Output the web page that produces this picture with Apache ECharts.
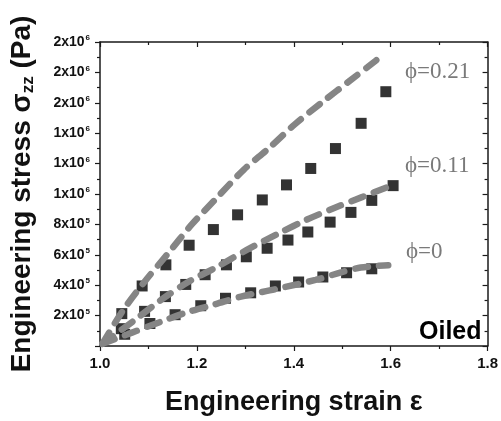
<!DOCTYPE html>
<html>
<head>
<meta charset="utf-8">
<script src="https://cdn.jsdelivr.net/npm/echarts@6/dist/echarts.min.js"></script>
<style>html,body{margin:0;padding:0;background:#fff}#c{width:501px;height:421px}</style>
</head>
<body>
<div id="c"></div>
<script>
// ---- data ----
const strain21 = [1.045,1.087,1.136,1.184,1.234,1.284,1.335,1.385,1.435,1.486,1.539,1.590];
const stress21 = [2.13e5,3.95e5,5.34e5,6.63e5,7.66e5,8.63e5,9.61e5,1.06e6,1.168e6,1.299e6,1.465e6,1.673e6];
const strain11 = [1.044,1.092,1.135,1.177,1.217,1.261,1.302,1.345,1.388,1.429,1.475,1.518,1.561,1.605];
const stress11 = [1.14e5,2.28e5,3.25e5,4.05e5,4.69e5,5.34e5,5.87e5,6.43e5,6.97e5,7.50e5,8.15e5,8.79e5,9.58e5,1.055e6];
const strain0 = [1.051,1.103,1.155,1.208,1.259,1.311,1.362,1.410,1.460,1.509,1.561];
const stress0 = [0.77e5,1.48e5,2.06e5,2.65e5,3.14e5,3.50e5,3.95e5,4.21e5,4.54e5,4.82e5,5.08e5];

const fitX21 = [1.005,1.047,1.092,1.141,1.189,1.243,1.297,1.347,1.402,1.459,1.516,1.569,1.583];
const fitY21 = [1.5e4,2.32e5,4.23e5,6.11e5,7.98e5,9.81e5,1.161e6,1.297e6,1.458e6,1.605e6,1.746e6,1.877e6,1.915e6];
const fitX11 = [1.005,1.071,1.126,1.182,1.240,1.303,1.371,1.426,1.486,1.542,1.597];
const fitY11 = [1.5e4,1.69e5,3.03e5,4.21e5,5.18e5,6.32e5,7.44e5,8.30e5,9.11e5,9.81e5,1.05e6];
const fitX0 = [1.005,1.066,1.124,1.181,1.239,1.291,1.361,1.445,1.499,1.538,1.595];
const fitY0 = [1.5e4,0.88e5,1.58e5,2.23e5,2.76e5,3.25e5,3.73e5,4.35e5,4.86e5,5.16e5,5.32e5];

const xTicks = [1.0,1.2,1.4,1.6,1.8];
const curveLabels = ['\u03d5=0.21','\u03d5=0.11','\u03d5=0'];
const panelLabel = 'Oiled';

const zip = (a,b) => a.map((v,i)=>[v,b[i]]);

const chart = echarts.init(document.getElementById('c'), null, {renderer:'canvas'});
const axisLine = {show:true, onZero:false, lineStyle:{color:'#1a1a1a', width:1.5}};
const tickStyle = {color:'#1a1a1a', width:1.2};

function yLabel(v){
  if (v === 0) return '';
  if (v < 1e6) return '{a|' + Math.round(v/1e5) + 'x10}{s|5}';
  return '{a|' + Math.round(v/1e6) + 'x10}{s|6}';
}

const dashLine = {color:'#858585', width:6.5, type:[13,11], cap:'round'};
const sq = {color:'#000'};

chart.setOption({
  animation:false,
  grid:{left:100, top:42, right:11, bottom:69, containLabel:false},
  xAxis:[{
    type:'value', min:1.0, max:1.8, interval:0.2, position:'bottom',
    axisLine:axisLine,
    axisTick:{show:true, inside:false, length:5, lineStyle:tickStyle},
    minorTick:{show:true, splitNumber:2, length:3, lineStyle:tickStyle},
    splitLine:{show:false},
    axisLabel:{margin:10, fontFamily:'Liberation Sans', fontWeight:'bold', fontSize:15, color:'#111',
      formatter:v=>xTicks.some(t=>Math.abs(t-v)<1e-9)?v.toFixed(1):''},
    name:'Engineering strain \u03b5', nameLocation:'middle', nameGap:43,
    nameTextStyle:{fontFamily:'Liberation Sans', fontWeight:'bold', fontSize:27, color:'#111'}
  },{
    type:'value', min:1.0, max:1.8, interval:0.2, position:'top',
    axisLine:axisLine,
    axisTick:{show:true, inside:true, length:5, lineStyle:tickStyle},
    minorTick:{show:true, splitNumber:2, length:3, lineStyle:tickStyle},
    splitLine:{show:false}, axisLabel:{show:false}
  }],
  yAxis:[{
    type:'value', min:0, max:2e6, interval:2e5, position:'left',
    axisLine:axisLine,
    axisTick:{show:true, inside:false, length:5, lineStyle:tickStyle},
    minorTick:{show:true, splitNumber:2, length:3, lineStyle:tickStyle},
    splitLine:{show:false},
    axisLabel:{margin:10, formatter:yLabel,
      rich:{
        a:{fontFamily:'Liberation Sans', fontWeight:'bold', fontSize:14, color:'#111', lineHeight:16},
        s:{fontFamily:'Liberation Sans', fontWeight:'bold', fontSize:8, color:'#111', lineHeight:16, verticalAlign:'top', padding:[0,0,7,1]}
      }},
    name:'Engineering stress \u03c3{sub|zz} (Pa)', nameLocation:'middle', nameGap:63, nameRotate:90,
    nameTextStyle:{fontFamily:'Liberation Sans', fontWeight:'bold', fontSize:28, color:'#111',
      rich:{sub:{fontFamily:'Liberation Sans', fontWeight:'bold', fontSize:17, color:'#111', padding:[12,0,0,0]}}}
  },{
    type:'value', min:0, max:2e6, interval:2e5, position:'right',
    axisLine:axisLine,
    axisTick:{show:true, inside:true, length:5, lineStyle:tickStyle},
    minorTick:{show:true, splitNumber:2, length:3, lineStyle:tickStyle},
    splitLine:{show:false}, axisLabel:{show:false}
  }],
  series:[
    {type:'scatter', data:zip(strain21,stress21), symbol:'rect', symbolSize:11, itemStyle:sq, z:2},
    {type:'scatter', data:zip(strain11,stress11), symbol:'rect', symbolSize:11, itemStyle:sq, z:2},
    {type:'scatter', data:zip(strain0,stress0), symbol:'rect', symbolSize:11, itemStyle:sq, z:2},
    {type:'line', data:zip(fitX21,fitY21), smooth:0.3, showSymbol:false, lineStyle:dashLine, z:3},
    {type:'line', data:zip(fitX11,fitY11), smooth:0.3, showSymbol:false, lineStyle:dashLine, z:3},
    {type:'line', data:zip(fitX0,fitY0), smooth:0.3, showSymbol:false, lineStyle:dashLine, z:3}
  ],
  graphic:[
    {type:'text', left:405, top:60, style:{text:curveLabels[0], font:'23px "Liberation Serif"', fill:'#7a7a7a'}},
    {type:'text', left:405, top:154, style:{text:curveLabels[1], font:'23px "Liberation Serif"', fill:'#7a7a7a'}},
    {type:'text', left:406, top:240, style:{text:curveLabels[2], font:'23px "Liberation Serif"', fill:'#7a7a7a'}},
    {type:'text', left:419, top:320, style:{text:panelLabel, font:'bold 25px "Liberation Sans"', fill:'#000'}}
  ]
});
</script>
</body>
</html>
